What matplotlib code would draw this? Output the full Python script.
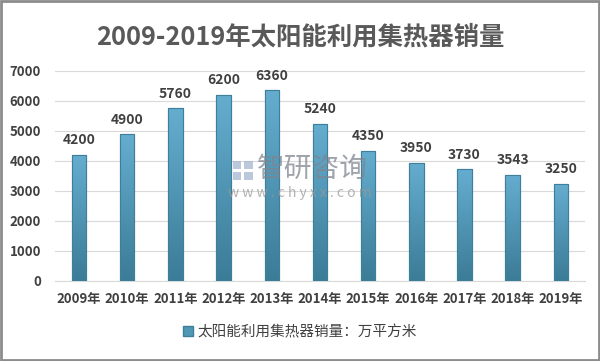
import matplotlib
matplotlib.use("Agg")
import matplotlib.pyplot as plt
import numpy as np
from matplotlib.patches import Rectangle, Patch
from matplotlib.colors import LinearSegmentedColormap

plt.rcParams['font.family'] = ['Noto Sans CJK SC', 'DejaVu Sans']

years = ["2009年", "2010年", "2011年", "2012年", "2013年", "2014年", "2015年",
         "2016年", "2017年", "2018年", "2019年"]
values = [4200, 4900, 5760, 6200, 6360, 5240, 4350, 3950, 3730, 3543, 3250]
title = "2009-2019年太阳能利用集热器销量"
legend_label = "太阳能利用集热器销量：万平方米"

fig = plt.figure(figsize=(6.0, 3.61), dpi=100)
ax = fig.add_axes([55/600, 1-281/361, 530/600, 210/361])

x = np.arange(len(values))
bars = ax.bar(x, values, width=0.3, color="#4f98b6", edgecolor="#3f7f9a",
              linewidth=0.8, zorder=3, label=legend_label)

cmap = LinearSegmentedColormap.from_list("g", ["#3b7c97", "#65add0"])
grad = np.linspace(0, 1, 256).reshape(-1, 1)
for b in bars:
    bx, by = b.get_x(), b.get_y()
    w, h = b.get_width(), b.get_height()
    im = ax.imshow(grad, cmap=cmap, origin="lower", aspect="auto",
                   extent=[bx, bx + w, by, by + h], zorder=3.5)
    im.set_clip_path(b)
    ax.add_patch(Rectangle((bx, by), w, h, fill=False, edgecolor="#3f7f9a",
                           linewidth=0.8, zorder=4))

for xi, v in zip(x, values):
    ax.text(xi, v + 250, f"{v}", ha="center", va="bottom", fontsize=10,
            fontweight="bold", color="#404040", zorder=5)

ax.set_xlim(-0.5, len(values) - 0.5)
ax.set_ylim(0, 7000)
ax.set_yticks(np.arange(0, 7001, 1000))
ax.yaxis.grid(True, color="#d9d9d9", linewidth=0.8, zorder=0)
ax.set_axisbelow(True)
for s in ["top", "right", "left"]:
    ax.spines[s].set_visible(False)
ax.spines["bottom"].set_color("#d9d9d9")
ax.tick_params(axis="both", length=0, labelsize=9.5, colors="#404040")
ax.tick_params(axis="y", pad=10)
ax.tick_params(axis="x", pad=8)
ax.set_xticks(x)
ax.set_xticklabels(years)
for lab in ax.get_xticklabels() + ax.get_yticklabels():
    lab.set_fontweight("bold")

fig.text(0.5, 1 - 37/361, title, ha="center", va="center", fontsize=18.3,
         fontweight="bold", color="#595959")

leg = fig.legend(handles=[Patch(facecolor="#4f98b6", edgecolor="#3f7f9a")],
                 labels=[legend_label], loc="center", bbox_to_anchor=(0.5, 1 - 332/361),
                 frameon=False, fontsize=10.5, handlelength=0.7, handleheight=0.7,
                 handletextpad=0.3)
for t in leg.get_texts():
    t.set_color("#404040")

# watermark
fig.text(312/600, 1 - 177/361, "智研咨询", ha="center", va="baseline", fontsize=20,
         color="#7f8590", alpha=0.75, zorder=10)
fig.text(300/600, 1 - 197/361, "w w w . c h y x x . c o m", ha="center", va="baseline",
         fontsize=10, color="#9a9a9a", alpha=0.75, zorder=10)
for (lx, ly, lw, lh) in [(233, 161, 8, 8), (244, 161, 9, 8), (233, 172, 8, 8), (244, 172, 9, 8)]:
    fig.add_artist(Rectangle((lx/600, 1 - (ly + lh)/361), lw/600, lh/361,
                             transform=fig.transFigure, facecolor="#9fb0cc",
                             edgecolor="none", alpha=0.7, zorder=10))

fig.add_artist(Rectangle((0.002, 0.003), 0.996, 0.994, transform=fig.transFigure,
                         fill=False, edgecolor="#8c8c8c", linewidth=2))

fig.savefig("out.png", dpi=100)
